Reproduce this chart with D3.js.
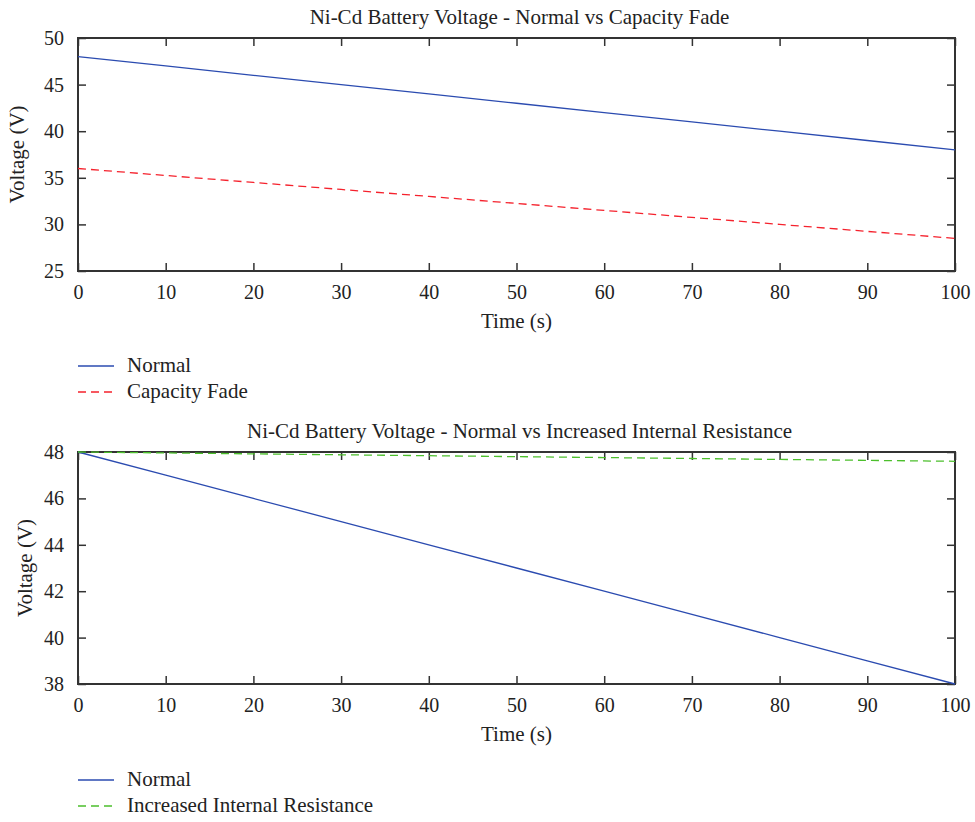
<!DOCTYPE html>
<html>
<head>
<meta charset="utf-8">
<script src="https://cdn.jsdelivr.net/npm/d3@7"></script>
<style>
  body { margin: 0; background: #fff; }
  svg text { font-family: "Liberation Serif", "DejaVu Serif", serif; fill: #222; }
</style>
</head>
<body>
<svg id="chart" width="975" height="822"></svg>
<script>
// time samples (s)
var times = [0, 10, 20, 30, 40, 50, 60, 70, 80, 90, 100];
// voltages
var normal = [48, 47, 46, 45, 44, 43, 42, 41, 40, 39, 38];
var capacityFade = [36, 35.25, 34.5, 33.75, 33, 32.25, 31.5, 30.75, 30, 29.25, 28.5];
var internalRes = [48, 47.96, 47.92, 47.88, 47.84, 47.8, 47.76, 47.72, 47.68, 47.64, 47.6];

var xTicks = [0, 10, 20, 30, 40, 50, 60, 70, 80, 90, 100];
var yTicksTop = [25, 30, 35, 40, 45, 50];
var yTicksBottom = [38, 40, 42, 44, 46, 48];

var svg = d3.select("#chart");

function drawPanel(opt) {
  var left = 78, right = 955;
  var x = d3.scaleLinear().domain([0, 100]).range([left, right]);
  var y = d3.scaleLinear().domain(opt.yDomain).range([opt.bottom, opt.top]);
  var g = svg.append("g");

  // ticks inside on all four sides
  g.append("g").attr("transform", "translate(0," + opt.bottom + ")")
    .call(d3.axisBottom(x).tickValues(xTicks).tickSizeInner(-8).tickSizeOuter(0).tickPadding(14));
  g.append("g").attr("transform", "translate(0," + opt.top + ")")
    .call(d3.axisTop(x).tickValues(xTicks).tickSizeInner(-8).tickSizeOuter(0).tickFormat(""));
  g.append("g").attr("transform", "translate(" + left + ",0)")
    .call(d3.axisLeft(y).tickValues(opt.yTicks).tickSizeInner(-8).tickSizeOuter(0).tickPadding(14));
  g.append("g").attr("transform", "translate(" + right + ",0)")
    .call(d3.axisRight(y).tickValues(opt.yTicks).tickSizeInner(-8).tickSizeOuter(0).tickFormat(""));

  g.selectAll(".domain").remove();
  g.selectAll(".tick line").attr("stroke", "#333").attr("stroke-width", 1.5);
  g.selectAll(".tick text").style("font-size", "20px").attr("fill", "#222");

  g.append("rect")
    .attr("x", left).attr("y", opt.top)
    .attr("width", right - left).attr("height", opt.bottom - opt.top)
    .attr("fill", "none").attr("stroke", "#333").attr("stroke-width", 2);

  var line = d3.line()
    .x(function(d, i) { return x(times[i]); })
    .y(function(d) { return y(d); });

  opt.series.forEach(function(s) {
    g.append("path")
      .datum(s.values)
      .attr("d", line)
      .attr("fill", "none")
      .attr("stroke", s.color)
      .attr("stroke-width", 1.3)
      .attr("stroke-dasharray", s.dash || null);
  });

  g.append("text")
    .attr("x", (left + right) / 2 + 3).attr("y", opt.top - 14)
    .attr("text-anchor", "middle").style("font-size", "21px")
    .text(opt.title);

  g.append("text")
    .attr("x", (left + right) / 2).attr("y", opt.bottom + 57)
    .attr("text-anchor", "middle").style("font-size", "21px")
    .text("Time (s)");

  g.append("text")
    .attr("transform", "translate(" + opt.yLabelX + "," + (opt.top + opt.bottom) / 2 + ") rotate(-90)")
    .attr("text-anchor", "middle").style("font-size", "21px")
    .text("Voltage (V)");

  // legend
  opt.series.forEach(function(s, i) {
    var ly = opt.legendY + i * 26;
    g.append("line")
      .attr("x1", 78).attr("x2", 114).attr("y1", ly).attr("y2", ly)
      .attr("stroke", s.color).attr("stroke-width", 1.3)
      .attr("stroke-dasharray", s.dash || null);
    g.append("text")
      .attr("x", 127).attr("y", ly + 6)
      .style("font-size", "21px")
      .text(s.name);
  });
}

drawPanel({
  top: 38, bottom: 271,
  yDomain: [25, 50], yTicks: yTicksTop,
  yLabelX: 24,
  legendY: 366,
  title: "Ni-Cd Battery Voltage - Normal vs Capacity Fade",
  series: [
    { name: "Normal", values: normal, color: "#2b4bb0" },
    { name: "Capacity Fade", values: capacityFade, color: "#f5222d", dash: "8,5" }
  ]
});

drawPanel({
  top: 452, bottom: 684,
  yDomain: [38, 48], yTicks: yTicksBottom,
  yLabelX: 32,
  legendY: 780,
  title: "Ni-Cd Battery Voltage - Normal vs Increased Internal Resistance",
  series: [
    { name: "Normal", values: normal, color: "#2b4bb0" },
    { name: "Increased Internal Resistance", values: internalRes, color: "#4cbf2c", dash: "8,5" }
  ]
});
</script>
</body>
</html>
